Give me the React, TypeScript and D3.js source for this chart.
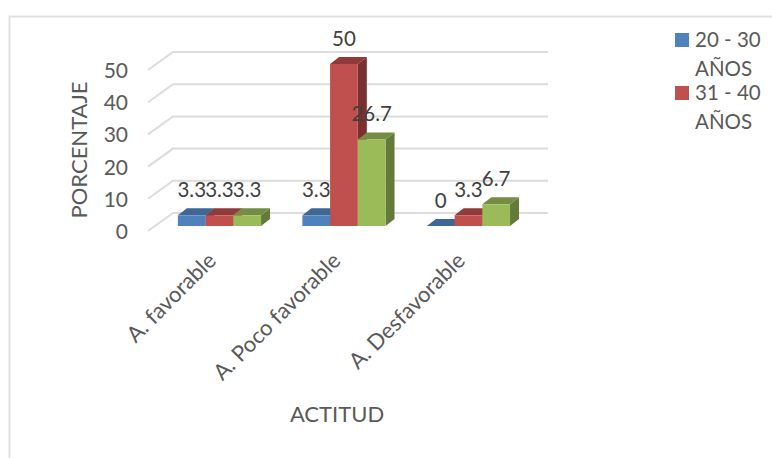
import React from "react";
import * as d3 from "d3";

const categories = ["A. favorable", "A. Poco favorable", "A. Desfavorable"];
const seriesA = [3.3, 3.3, 0];
const seriesB = [3.3, 50, 3.3];
const seriesC = [3.3, 26.7, 6.7];
const seriesKeys = ["a", "b", "c"];
const legendNames = ["20 - 30", "31 - 40"];
const legendSecondLine = "AÑOS";
const yTicks = [0, 10, 20, 30, 40, 50];
const fills = ["#4f81bd", "#c0504d", "#9bbb59"];
const tops = ["#3f6795", "#8f3b39", "#748d43"];
const sides = ["#385a84", "#7a302f", "#647a3a"];

const FONT = "Lato, 'Open Sans', sans-serif";
const x0 = d3.scaleBand<string>().domain(categories).range([157.2, 530.7]).paddingInner(0.332).paddingOuter(0.166);
const x1 = d3.scaleBand<string>().domain(seriesKeys).range([0, x0.bandwidth()]);
const yFront = d3.scaleLinear().domain([0, 50]).range([231, 70]);
const yBar = d3.scaleLinear().domain([0, 50]).range([226, 64]);
const wallDx = 25, wallDy = -18, depthDx = 9, depthDy = -7;
const rows = [seriesA, seriesB, seriesC];

export default function App() {
  return (
    <svg width={772} height={458} style={{ position: "absolute", left: 0, top: 0, background: "#fff" }} fontFamily={FONT}>
      <path d="M772,16.5H9.5V458" fill="none" stroke="#e0e0e0" strokeWidth={2} />
      {yTicks.map((t) => {
        const y = yFront(t);
        return (
          <g key={t}>
            <path d={`M148,${y}L${148 + wallDx},${y + wallDy}H548`} fill="none" stroke="#dcdcdc" strokeWidth={2} />
            <text x={128} y={y + 8} textAnchor="end" fontSize={21} fill="#595959">{t}</text>
          </g>
        );
      })}
      {categories.map((c, ci) => (
        <g key={c}>
          {rows.map((row, si) => {
            const x = x0(c)! + x1(seriesKeys[si])!;
            const w = x1.bandwidth();
            const base = yBar(0);
            const top = yBar(row[ci]);
            return (
              <g key={si}>
                <path d={`M${x + w},${top}l${depthDx},${depthDy}V${base + depthDy}l${-depthDx},${-depthDy}Z`} fill={sides[si]} />
                <path d={`M${x},${top}l${depthDx},${depthDy}h${w}l${-depthDx},${-depthDy}Z`} fill={tops[si]} />
                <rect x={x} y={top} width={w} height={base - top} fill={fills[si]} />
              </g>
            );
          })}
        </g>
      ))}
      {categories.map((c, ci) => (
        <g key={c}>
          {rows.map((row, si) => (
            <text key={si} x={x0(c)! + x1(seriesKeys[si])! + x1.bandwidth() / 2} y={yBar(row[ci]) - 18} textAnchor="middle" fontSize={20.5} fill="#404040">{row[ci]}</text>
          ))}
          <text
            transform={`translate(${x0(c)! + x0.bandwidth() / 2 - 2},${262}) rotate(-45)`}
            textAnchor="end"
            fontSize={22}
            fill="#595959"
          >{c}</text>
        </g>
      ))}
      <text transform="translate(87,150) rotate(-90)" textAnchor="middle" fontSize={22} fill="#595959">PORCENTAJE</text>
      <text x={337} y={422} textAnchor="middle" fontSize={22} fill="#595959">ACTITUD</text>
      {legendNames.map((n, i) => {
        const y = 33 + i * 53;
        return (
          <g key={n}>
            <rect x={675} y={y} width={14} height={14} fill={fills[i]} />
            <text x={695} y={y + 14} fontSize={20.5} fill="#595959">{n}</text>
            <text x={695} y={y + 43} fontSize={20.5} fill="#595959">{legendSecondLine}</text>
          </g>
        );
      })}
    </svg>
  );
}
